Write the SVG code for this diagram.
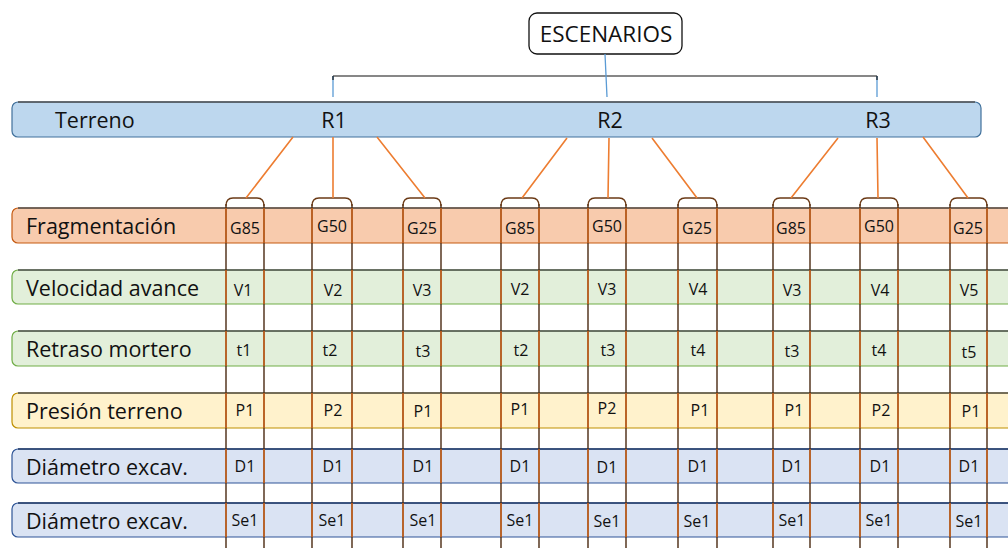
<svg xmlns="http://www.w3.org/2000/svg" width="1008" height="548" viewBox="0 0 1008 548">
<style>
text{font-family:"Open Sans","Noto Sans","Liberation Sans",sans-serif;fill:#111}
.lbl{font-size:21.5px}
.big{font-size:21.5px}
.cell{font-size:16px;text-anchor:middle}
.vd{stroke:#4a2a12;stroke-width:1.4;fill:none}
.vo{stroke:#d4661c;stroke-width:1.4;fill:none}
.con{stroke:#ed7d31;stroke-width:1.6;fill:none}
.cap{stroke:#6b3a16;stroke-width:1.3;fill:none}
.topline{stroke:#505050;stroke-width:1.6}
</style>
<rect width="1008" height="548" fill="#fff"/>

<g id="escenarios">
<rect x="529" y="13" width="153" height="41" rx="8" fill="#fff" stroke="#111" stroke-width="1.3"/>
<text x="606" y="42" text-anchor="middle" style="font-size:22.5px">ESCENARIOS</text>
</g>

<g id="bracket">
<path d="M333 76 H877" stroke="#111" stroke-width="1.2" fill="none"/>
<path d="M333 76 V97 M877 76 V97 M605 54 L607 97" stroke="#5b9bd5" stroke-width="1.3" fill="none"/>
<path d="M333 76 V80 M877 76 V80" stroke="#111" stroke-width="1.2"/>
</g>

<g id="terreno">
<rect x="12" y="102" width="969" height="35" rx="6" fill="#bdd7ee" stroke="#41719c" stroke-width="1.2"/>
<path d="M18 102 H975" class="topline"/>
<text x="55" y="128" class="big">Terreno</text>
<text x="334" y="128" class="big" text-anchor="middle">R1</text>
<text x="610" y="128" class="big" text-anchor="middle">R2</text>
<text x="878" y="128" class="big" text-anchor="middle">R3</text>
</g>

<g id="row-fragmentacion">
<rect x="12" y="208" width="1010" height="35" rx="6" fill="#f8cbad" stroke="#c55a11" stroke-width="1.2"/>
<path d="M18 208 H1008" class="topline"/>
<text x="26" y="234" class="lbl">Fragmentación</text>
</g>
<g id="row-velocidad">
<rect x="12" y="270" width="1010" height="34" rx="6" fill="#e2efda" stroke="#70ad47" stroke-width="1.2"/>
<path d="M18 270 H1008" class="topline"/>
<text x="26" y="296" class="lbl">Velocidad avance</text>
</g>
<g id="row-retraso">
<rect x="12" y="331" width="1010" height="35" rx="6" fill="#e2efda" stroke="#70ad47" stroke-width="1.2"/>
<path d="M18 331 H1008" class="topline"/>
<text x="26" y="357" class="lbl">Retraso mortero</text>
</g>
<g id="row-presion">
<rect x="12" y="393" width="1010" height="35" rx="6" fill="#fff2cc" stroke="#bf9000" stroke-width="1.2"/>
<path d="M18 393 H1008" class="topline"/>
<text x="26" y="419" class="lbl">Presión terreno</text>
</g>
<g id="row-diametro1">
<rect x="12" y="449" width="1010" height="34" rx="6" fill="#dae3f3" stroke="#2f5597" stroke-width="1.2"/>
<path d="M18 449 H1008" stroke="#1f3864" stroke-width="1.6"/>
<text x="26" y="475" class="lbl">Diámetro excav.</text>
</g>
<g id="row-diametro2">
<rect x="12" y="503" width="1010" height="34" rx="6" fill="#dae3f3" stroke="#2f5597" stroke-width="1.2"/>
<path d="M18 503 H1008" stroke="#1f3864" stroke-width="1.6"/>
<text x="26" y="529" class="lbl">Diámetro excav.</text>
</g>

<g id="columns">
<path class="vd" d="M226 204 V548 M264 204 V548 M312 204 V548 M352 204 V548 M403 204 V548 M441 204 V548 M501 204 V548 M539 204 V548 M588 204 V548 M626 204 V548 M678 204 V548 M717 204 V548 M773 204 V548 M810 204 V548 M860 204 V548 M898 204 V548 M950 204 V548 M987 204 V548"/>
<path class="cap" d="M226 206 Q226 198 233 198 H257 Q264 198 264 206"/>
<path class="cap" d="M312 206 Q312 198 319 198 H345 Q352 198 352 206"/>
<path class="cap" d="M403 206 Q403 198 410 198 H434 Q441 198 441 206"/>
<path class="cap" d="M501 206 Q501 198 508 198 H532 Q539 198 539 206"/>
<path class="cap" d="M588 206 Q588 198 595 198 H619 Q626 198 626 206"/>
<path class="cap" d="M678 206 Q678 198 685 198 H710 Q717 198 717 206"/>
<path class="cap" d="M773 206 Q773 198 780 198 H803 Q810 198 810 206"/>
<path class="cap" d="M860 206 Q860 198 867 198 H891 Q898 198 898 206"/>
<path class="cap" d="M950 206 Q950 198 957 198 H980 Q987 198 987 206"/>
<g class="vo">
<path d="M226 208 V243 M264 208 V243 M312 208 V243 M352 208 V243 M403 208 V243 M441 208 V243 M501 208 V243 M539 208 V243 M588 208 V243 M626 208 V243 M678 208 V243 M717 208 V243 M773 208 V243 M810 208 V243 M860 208 V243 M898 208 V243 M950 208 V243 M987 208 V243"/>
<path d="M226 270 V304 M264 270 V304 M312 270 V304 M352 270 V304 M403 270 V304 M441 270 V304 M501 270 V304 M539 270 V304 M588 270 V304 M626 270 V304 M678 270 V304 M717 270 V304 M773 270 V304 M810 270 V304 M860 270 V304 M898 270 V304 M950 270 V304 M987 270 V304"/>
<path d="M226 331 V366 M264 331 V366 M312 331 V366 M352 331 V366 M403 331 V366 M441 331 V366 M501 331 V366 M539 331 V366 M588 331 V366 M626 331 V366 M678 331 V366 M717 331 V366 M773 331 V366 M810 331 V366 M860 331 V366 M898 331 V366 M950 331 V366 M987 331 V366"/>
<path d="M226 393 V428 M264 393 V428 M312 393 V428 M352 393 V428 M403 393 V428 M441 393 V428 M501 393 V428 M539 393 V428 M588 393 V428 M626 393 V428 M678 393 V428 M717 393 V428 M773 393 V428 M810 393 V428 M860 393 V428 M898 393 V428 M950 393 V428 M987 393 V428"/>
<path d="M226 449 V483 M264 449 V483 M312 449 V483 M352 449 V483 M403 449 V483 M441 449 V483 M501 449 V483 M539 449 V483 M588 449 V483 M626 449 V483 M678 449 V483 M717 449 V483 M773 449 V483 M810 449 V483 M860 449 V483 M898 449 V483 M950 449 V483 M987 449 V483"/>
<path d="M226 503 V537 M264 503 V537 M312 503 V537 M352 503 V537 M403 503 V537 M441 503 V537 M501 503 V537 M539 503 V537 M588 503 V537 M626 503 V537 M678 503 V537 M717 503 V537 M773 503 V537 M810 503 V537 M860 503 V537 M898 503 V537 M950 503 V537 M987 503 V537"/>
</g>
</g>

<g id="connectors">
<path class="con" d="M293 137 L246 198 M333 137 L333 198 M377 137 L425 198"/>
<path class="con" d="M567 138 L522 198 M609 138 L608 198 M652 138 L697 198"/>
<path class="con" d="M838 138 L791 198 M877 138 L878 198 M923 137 L968 198"/>
</g>

<g id="cells">
<g>
<text x="245" y="234" class="cell">G85</text><text x="332" y="232" class="cell">G50</text><text x="422" y="234" class="cell">G25</text>
<text x="520" y="234" class="cell">G85</text><text x="607" y="232" class="cell">G50</text><text x="697" y="234" class="cell">G25</text>
<text x="791" y="234" class="cell">G85</text><text x="879" y="232" class="cell">G50</text><text x="968" y="234" class="cell">G25</text>
</g>
<g>
<text x="243" y="296" class="cell">V1</text><text x="333" y="296" class="cell">V2</text><text x="422" y="296" class="cell">V3</text>
<text x="520" y="295" class="cell">V2</text><text x="607" y="295" class="cell">V3</text><text x="698" y="295" class="cell">V4</text>
<text x="792" y="296" class="cell">V3</text><text x="880" y="296" class="cell">V4</text><text x="969" y="296" class="cell">V5</text>
</g>
<g>
<text x="244" y="356" class="cell">t1</text><text x="330" y="356" class="cell">t2</text><text x="423" y="357" class="cell">t3</text>
<text x="521" y="356" class="cell">t2</text><text x="608" y="356" class="cell">t3</text><text x="698" y="356" class="cell">t4</text>
<text x="792" y="357" class="cell">t3</text><text x="879" y="356" class="cell">t4</text><text x="969" y="358" class="cell">t5</text>
</g>
<g>
<text x="245" y="416" class="cell">P1</text><text x="333" y="416" class="cell">P2</text><text x="423" y="417" class="cell">P1</text>
<text x="520" y="415" class="cell">P1</text><text x="607" y="414" class="cell">P2</text><text x="700" y="416" class="cell">P1</text>
<text x="794" y="416" class="cell">P1</text><text x="881" y="416" class="cell">P2</text><text x="971" y="417" class="cell">P1</text>
</g>
<g>
<text x="245" y="472" class="cell">D1</text><text x="333" y="472" class="cell">D1</text><text x="423" y="472" class="cell">D1</text>
<text x="520" y="472" class="cell">D1</text><text x="607" y="473" class="cell">D1</text><text x="698" y="472" class="cell">D1</text>
<text x="792" y="472" class="cell">D1</text><text x="880" y="472" class="cell">D1</text><text x="969" y="472" class="cell">D1</text>
</g>
<g>
<text x="245" y="526" class="cell">Se1</text><text x="332" y="526" class="cell">Se1</text><text x="423" y="526" class="cell">Se1</text>
<text x="520" y="526" class="cell">Se1</text><text x="607" y="527" class="cell">Se1</text><text x="697" y="527" class="cell">Se1</text>
<text x="792" y="526" class="cell">Se1</text><text x="879" y="526" class="cell">Se1</text><text x="969" y="527" class="cell">Se1</text>
</g>
</g>
</svg>
